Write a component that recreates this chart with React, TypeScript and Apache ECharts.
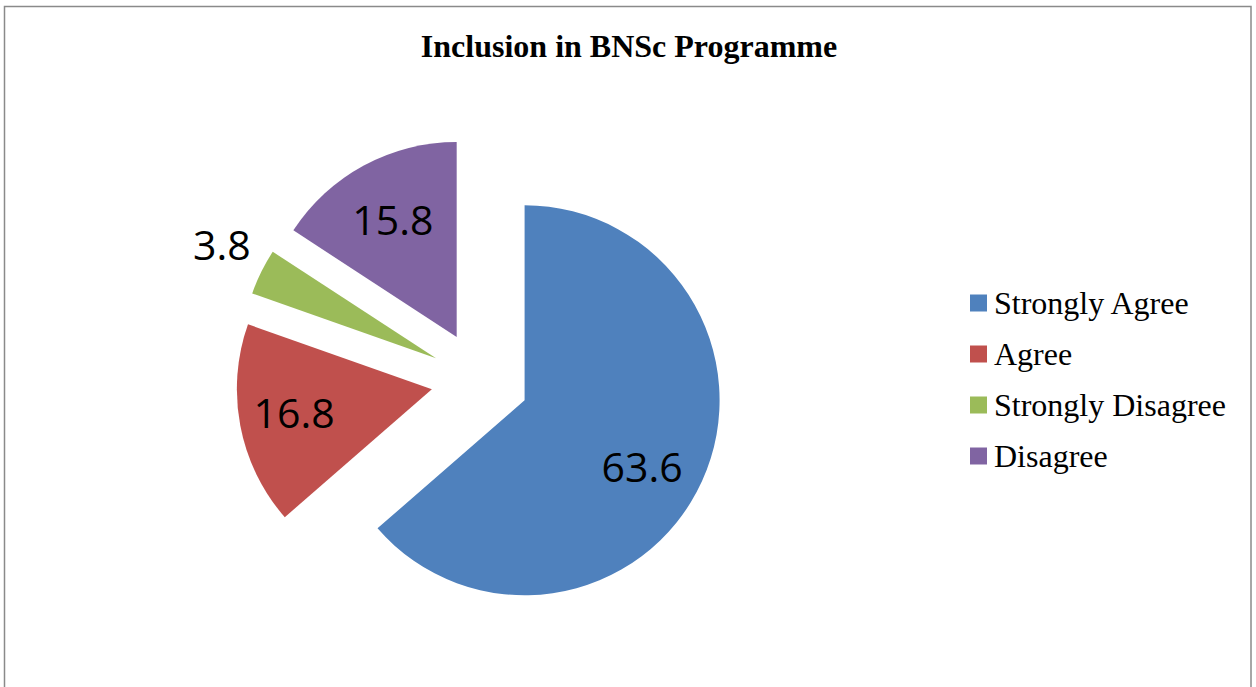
import React, { useEffect, useRef } from "react";
import * as echarts from "echarts";

const title = "Inclusion in BNSc Programme";
const categories = ["Strongly Agree", "Agree", "Strongly Disagree", "Disagree"];
const values = [63.6, 16.8, 3.8, 15.8];
const colors = ["#4F81BD", "#C0504D", "#9BBB59", "#8064A2"];
const labelOffsets: [number, number][] = [
  [26, 24],
  [-39, 4],
  [-124, -70],
  [-16, -30],
];

export default function App() {
  const ref = useRef<HTMLDivElement>(null);
  useEffect(() => {
    if (!ref.current) return;
    const chart = echarts.init(ref.current, null, { renderer: "svg" });
    chart.setOption({
      animation: false,
      backgroundColor: "#ffffff",
      title: {
        text: title,
        left: 624,
        textAlign: "center",
        top: 25,
        textStyle: {
          fontFamily: "'Liberation Serif', 'Times New Roman', serif",
          fontWeight: "bold",
          fontSize: 32,
          color: "#000",
        },
      },
      legend: {
        orient: "vertical",
        left: 965,
        top: 282,
        icon: "rect",
        itemWidth: 17,
        itemHeight: 17,
        itemGap: 19,
        data: categories,
        selectedMode: false,
        textStyle: {
          fontFamily: "'Liberation Serif', 'Times New Roman', serif",
          fontSize: 32,
          color: "#000",
          padding: [0, 0, 0, 2],
        },
      },
      graphic: [
        {
          type: "rect",
          shape: { x: 4.5, y: 6.5, width: 1246.5, height: 700 },
          style: { fill: "none", stroke: "#8a8a8a", lineWidth: 1.5 },
          silent: true,
        },
      ],
      series: [
        {
          type: "pie",
          center: [480, 380],
          radius: [0, 195],
          startAngle: 90,
          clockwise: true,
          selectedMode: "multiple",
          selectedOffset: 49,
          emphasis: { disabled: true },
          labelLine: { show: false },
          label: {
            show: true,
            position: "inside",
            formatter: (p: any) => String(p.value),
            fontFamily: "'Open Sans', sans-serif",
            fontSize: 41,
            color: "#000",
          },
          labelLayout: (p: any) => ({
            dx: labelOffsets[p.dataIndex][0],
            dy: labelOffsets[p.dataIndex][1],
          }),
          data: categories.map((name, i) => ({
            name,
            value: values[i],
            selected: true,
            itemStyle: { color: colors[i] },
          })),
        },
      ],
    });
    return () => chart.dispose();
  }, []);
  return (
    <div
      ref={ref}
      style={{ position: "fixed", left: 0, top: 0, width: 1256, height: 687 }}
    />
  );
}
